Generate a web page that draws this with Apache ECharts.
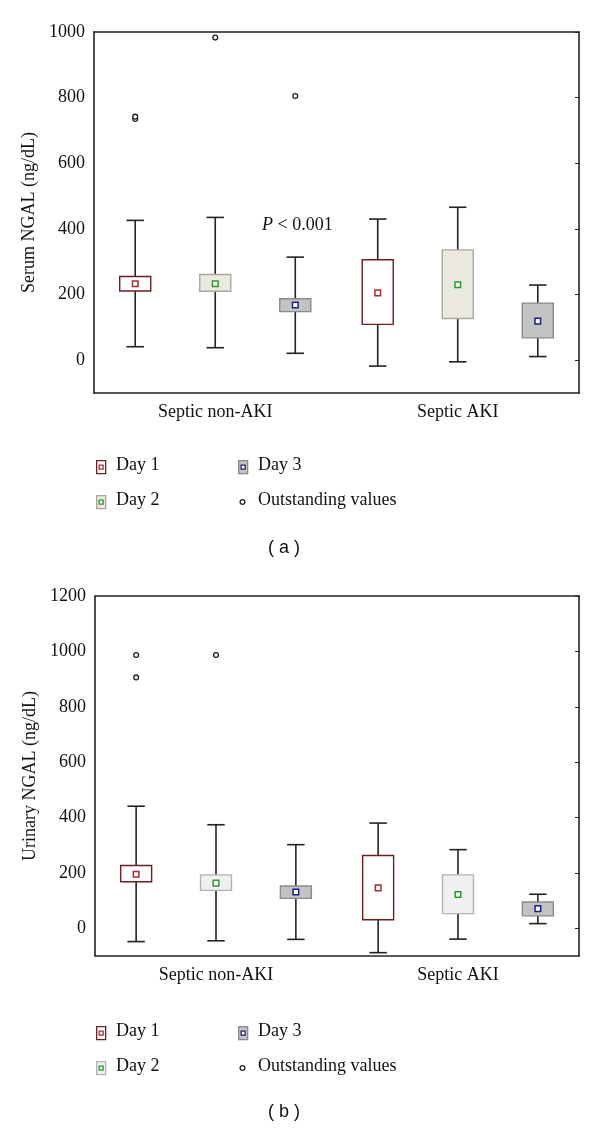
<!DOCTYPE html>
<html><head><meta charset="utf-8">
<script src="https://cdn.jsdelivr.net/npm/echarts@6/dist/echarts.min.js"></script>
<style>html,body{margin:0;padding:0;background:#fff}#c{width:600px;height:1128px}</style>
</head><body><div id="c"></div>
<script>
const categories = ['Septic non-AKI', 'Septic AKI'];
const days = ['Day 1', 'Day 2', 'Day 3'];
// [low whisker, box bottom, mean, box top, high whisker] per category
const serumDay1 = [[41, 211, 233, 255, 426], [-18, 109, 205, 306, 430]];
const serumDay2 = [[38, 210, 233, 261, 435], [-5, 127, 230, 336, 466]];
const serumDay3 = [[21, 148, 168, 187, 314], [11, 68, 119, 174, 229]];
// outliers: [category index, day (1-3), value]
const serumOutliers = [[0, 1, 735], [0, 1, 742], [0, 2, 983], [0, 3, 805]];
const urineDay1 = [[-48, 168, 195, 227, 441], [-88, 31, 146, 263, 380]];
const urineDay2 = [[-45, 137, 163, 193, 374], [-39, 53, 122, 193, 284]];
const urineDay3 = [[-40, 108, 131, 153, 302], [17, 45, 71, 95, 123]];
const urineOutliers = [[0, 1, 906], [0, 1, 987], [0, 2, 987]];
const serumTicks = [0, 200, 400, 600, 800, 1000];
const urineTicks = [0, 200, 400, 600, 800, 1000, 1200];

const styles = {
  top: [
    {fill: '#ffffff', border: '#6e1e22', mean: '#b02a35'},
    {fill: '#ebe8dd', border: '#a8a8a0', mean: '#2a9a2a'},
    {fill: '#c3c3c3', border: '#8a8a8a', mean: '#1e1e8c'}
  ],
  bot: [
    {fill: '#ffffff', border: '#6e1e22', mean: '#b02a35'},
    {fill: '#f0f0f0', border: '#b4b4b4', mean: '#2a9a2a'},
    {fill: '#c3c3c3', border: '#8a8a8a', mean: '#1e1e8c'}
  ]
};

function buildBoxData(d1, d2, d3) {
  const out = [];
  [d1, d2, d3].forEach((arr, di) => {
    arr.forEach((v, ci) => out.push([ci, di + 1].concat(v)));
  });
  return out;
}

const FONT = 'Liberation Serif';
const INK = '#222';

function boxRenderer(st) {
  return function (params, api) {
    const cat = api.value(0), day = api.value(1);
    const band = api.size([1, 0])[0];
    const cx = api.coord([cat, 0])[0] + (day - 2) * band * 0.33;
    const y = v => api.coord([cat, v])[1];
    const lo = y(api.value(2)), q1 = y(api.value(3)), mean = y(api.value(4)),
          q3 = y(api.value(5)), hi = y(api.value(6));
    const hw = band * 0.064, cw = band * 0.036, ms = 2.8;
    const s = st[day - 1];
    const line = {stroke: INK, lineWidth: 1.6};
    return {
      type: 'group',
      children: [
        {type: 'line', shape: {x1: cx, y1: hi, x2: cx, y2: lo}, style: line},
        {type: 'line', shape: {x1: cx - cw, y1: hi, x2: cx + cw, y2: hi}, style: line},
        {type: 'line', shape: {x1: cx - cw, y1: lo, x2: cx + cw, y2: lo}, style: line},
        {type: 'rect', shape: {x: cx - hw, y: q3, width: hw * 2, height: q1 - q3},
          style: {fill: s.fill, stroke: s.border, lineWidth: 1.4}},
        {type: 'rect', shape: {x: cx - ms, y: mean - ms, width: ms * 2, height: ms * 2},
          style: {fill: '#fff', stroke: s.mean, lineWidth: 1.5}}
      ]
    };
  };
}

function outlierRenderer(params, api) {
  const cat = api.value(0), day = api.value(1);
  const band = api.size([1, 0])[0];
  const cx = api.coord([cat, 0])[0] + (day - 2) * band * 0.33;
  const cy = api.coord([cat, api.value(2)])[1];
  return {type: 'circle', shape: {cx: cx, cy: cy, r: 2.4},
    style: {fill: '#fff', stroke: INK, lineWidth: 1.3}};
}

function xAxes(gridIndex) {
  return [
    {type: 'category', gridIndex, data: categories, position: 'bottom',
      axisLine: {onZero: false, lineStyle: {color: INK, width: 1.6}},
      axisTick: {inside: true, alignWithLabel: true, length: 5, lineStyle: {color: INK, width: 1.2}},
      axisLabel: {fontFamily: FONT, fontSize: 18, color: '#111', margin: 10}},
    {type: 'category', gridIndex, data: categories, position: 'top',
      axisLine: {onZero: false, lineStyle: {color: INK, width: 1.6}},
      axisTick: {inside: true, alignWithLabel: true, length: 5, lineStyle: {color: INK, width: 1.2}},
      axisLabel: {show: false}}
  ];
}
function yAxes(gridIndex, ticks, name) {
  const min = -100, max = ticks[ticks.length - 1];
  return [
    {type: 'value', gridIndex, min, max, interval: 100, name,
      nameLocation: 'middle', nameGap: 52, nameRotate: 90,
      nameTextStyle: {fontFamily: FONT, fontSize: 18, color: '#111'},
      axisLine: {show: true, onZero: false, lineStyle: {color: INK, width: 1.6}},
      axisTick: {show: false}, splitLine: {show: false},
      axisLabel: {fontFamily: FONT, fontSize: 18, color: '#111', margin: 9,
        customValues: ticks, formatter: v => String(v)}},
    {type: 'value', gridIndex, min, max, interval: 100, position: 'right',
      axisLine: {show: true, onZero: false, lineStyle: {color: INK, width: 1.6}},
      axisTick: {show: true, inside: true, length: 4, lineStyle: {color: INK},
        customValues: ticks},
      splitLine: {show: false}, axisLabel: {show: false}}
  ];
}

function legend(top, st, caption, capY) {
  const items = [
    {x: 96, y: top, s: st[0], label: 'Day 1'},
    {x: 96, y: top + 35, s: st[1], label: 'Day 2'},
    {x: 238, y: top, s: st[2], label: 'Day 3'}
  ];
  const els = [];
  items.forEach(it => {
    els.push({type: 'rect', left: it.x, top: it.y - 7,
      shape: {width: 9, height: 13}, style: {fill: it.s.fill, stroke: it.s.border, lineWidth: 1.3}});
    els.push({type: 'rect', left: it.x + 2.5, top: it.y - 2.5,
      shape: {width: 4, height: 4}, style: {fill: '#fff', stroke: it.s.mean, lineWidth: 1.3}});
    els.push({type: 'text', left: it.x + 20, top: it.y - 11,
      style: {text: it.label, font: '18px "Liberation Serif"', fill: '#111'}});
  });
  els.push({type: 'circle', shape: {cx: 242.5, cy: top + 35, r: 2.4},
    style: {fill: '#fff', stroke: INK, lineWidth: 1.3}});
  els.push({type: 'text', left: 258, top: top + 35 - 11,
    style: {text: 'Outstanding values', font: '18px "Liberation Serif"', fill: '#111'}});
  els.push({type: 'text', left: 268, top: capY,
    style: {text: '( ' + caption + ' )', font: '18px "Liberation Sans"', fill: '#111'}});
  return els;
}

const chart = echarts.init(document.getElementById('c'), null, {renderer: 'canvas'});
chart.setOption({
  animation: false,
  grid: [
    {left: 94, top: 32, width: 485, height: 361},
    {left: 95, top: 596, width: 484, height: 360}
  ],
  xAxis: xAxes(0).concat(xAxes(1)),
  yAxis: yAxes(0, serumTicks, 'Serum NGAL (ng/dL)').concat(yAxes(1, urineTicks, 'Urinary NGAL (ng/dL)')),
  series: [
    {type: 'custom', xAxisIndex: 0, yAxisIndex: 0, renderItem: boxRenderer(styles.top),
      data: buildBoxData(serumDay1, serumDay2, serumDay3), encode: {x: 0, y: [2, 6]}},
    {type: 'custom', xAxisIndex: 0, yAxisIndex: 0, renderItem: outlierRenderer,
      data: serumOutliers, encode: {x: 0, y: 2}},
    {type: 'custom', xAxisIndex: 2, yAxisIndex: 2, renderItem: boxRenderer(styles.bot),
      data: buildBoxData(urineDay1, urineDay2, urineDay3), encode: {x: 0, y: [2, 6]}},
    {type: 'custom', xAxisIndex: 2, yAxisIndex: 2, renderItem: outlierRenderer,
      data: urineOutliers, encode: {x: 0, y: 2}}
  ],
  graphic: [
    {type: 'text', left: 262, top: 216,
      style: {text: '{i|P} < 0.001', font: '18px "Liberation Serif"', fill: '#111',
        rich: {i: {fontStyle: 'italic', fontFamily: 'Liberation Serif', fontSize: 18}}}}
  ].concat(legend(467, styles.top, 'a', 539)).concat(legend(1033, styles.bot, 'b', 1103))
});
</script></body></html>
